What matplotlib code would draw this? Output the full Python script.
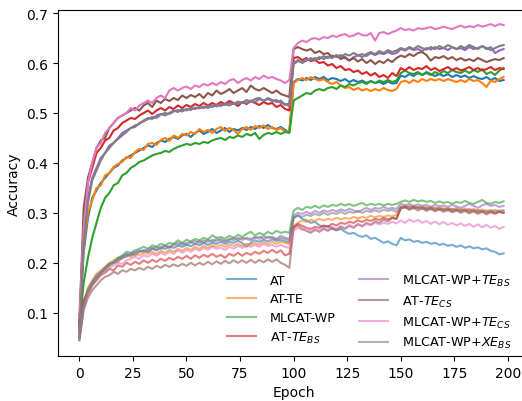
import numpy as np
import matplotlib
matplotlib.use("Agg")
import matplotlib.pyplot as plt

# epochs sampled every 2
epochs = np.arange(0, 200, 2)

labels = ["AT", "AT-TE", "MLCAT-WP", "AT-$TE_{BS}$", "MLCAT-WP+$TE_{BS}$",
          "AT-$TE_{CS}$", "MLCAT-WP+$TE_{CS}$", "MLCAT-WP+$XE_{BS}$"]
colors = ["tab:blue", "tab:orange", "tab:green", "tab:red", "tab:purple",
          "tab:brown", "tab:pink", "tab:gray"]

# clean accuracy
clean_at = [
    0.08, 0.22, 0.29, 0.33, 0.345, 0.36, 0.37, 0.38, 0.39, 0.395,
    0.405, 0.41, 0.415, 0.42, 0.425, 0.43, 0.435, 0.432, 0.44, 0.445,
    0.442, 0.448, 0.452, 0.448, 0.455, 0.458, 0.452, 0.46, 0.465, 0.458,
    0.462, 0.468, 0.46, 0.465, 0.47, 0.462, 0.468, 0.465, 0.47, 0.466,
    0.472, 0.468, 0.474, 0.47, 0.476, 0.47, 0.468, 0.472, 0.466, 0.462,
    0.562, 0.568, 0.565, 0.57, 0.566, 0.572, 0.568, 0.572, 0.566, 0.57,
    0.568, 0.564, 0.568, 0.562, 0.566, 0.562, 0.565, 0.56, 0.564, 0.56,
    0.562, 0.558, 0.563, 0.559, 0.56,
    0.575, 0.572, 0.578, 0.574, 0.58, 0.576, 0.582, 0.578, 0.574, 0.578,
    0.574, 0.578, 0.572, 0.576, 0.572, 0.575, 0.57, 0.574, 0.57, 0.568,
    0.572, 0.566, 0.57, 0.564, 0.566]
clean_at_te = [
    0.08, 0.23, 0.3, 0.325, 0.35, 0.355, 0.375, 0.38, 0.392, 0.398,
    0.402, 0.412, 0.41, 0.422, 0.428, 0.426, 0.438, 0.44, 0.436, 0.446,
    0.45, 0.444, 0.455, 0.45, 0.458, 0.455, 0.462, 0.458, 0.468, 0.462,
    0.466, 0.46, 0.468, 0.472, 0.464, 0.47, 0.466, 0.458, 0.468, 0.472,
    0.466, 0.474, 0.47, 0.475, 0.468, 0.472, 0.466, 0.47, 0.462, 0.465,
    0.56, 0.566, 0.57, 0.566, 0.572, 0.568, 0.565, 0.568, 0.562, 0.558,
    0.562, 0.555, 0.55, 0.552, 0.546, 0.55, 0.545, 0.548, 0.544, 0.548,
    0.545, 0.55, 0.546, 0.544, 0.548,
    0.562, 0.565, 0.56, 0.566, 0.562, 0.568, 0.564, 0.568, 0.565, 0.568,
    0.564, 0.568, 0.565, 0.562, 0.566, 0.562, 0.568, 0.564, 0.566, 0.56,
    0.552, 0.565, 0.562, 0.568, 0.572]
clean_mlcat = [
    0.07, 0.16, 0.21, 0.25, 0.28, 0.31, 0.33, 0.34, 0.355, 0.36,
    0.375, 0.38, 0.39, 0.395, 0.402, 0.405, 0.41, 0.415, 0.418, 0.42,
    0.424, 0.422, 0.428, 0.432, 0.435, 0.438, 0.436, 0.44, 0.438, 0.442,
    0.44, 0.445, 0.448, 0.45, 0.446, 0.452, 0.45, 0.455, 0.452, 0.458,
    0.455, 0.46, 0.448, 0.456, 0.46, 0.458, 0.462, 0.458, 0.462, 0.46,
    0.525, 0.53, 0.535, 0.54, 0.538, 0.545, 0.548, 0.545, 0.55, 0.552,
    0.548, 0.555, 0.552, 0.558, 0.555, 0.56, 0.562, 0.558, 0.564, 0.56,
    0.565, 0.562, 0.566, 0.562, 0.565,
    0.58, 0.585, 0.58, 0.578, 0.582, 0.576, 0.58, 0.576, 0.582, 0.578,
    0.584, 0.58, 0.586, 0.582, 0.58, 0.585, 0.58, 0.586, 0.582, 0.588,
    0.578, 0.582, 0.576, 0.585, 0.59]
clean_at_te_bs = [
    0.07, 0.28, 0.36, 0.39, 0.42, 0.43, 0.445, 0.45, 0.465, 0.47,
    0.48, 0.485, 0.49, 0.488, 0.495, 0.5, 0.505, 0.498, 0.505, 0.51,
    0.505, 0.512, 0.508, 0.515, 0.51, 0.516, 0.512, 0.518, 0.514, 0.52,
    0.515, 0.52, 0.516, 0.522, 0.518, 0.524, 0.52, 0.514, 0.522, 0.518,
    0.524, 0.52, 0.516, 0.522, 0.518, 0.52, 0.512, 0.516, 0.508, 0.505,
    0.61, 0.612, 0.606, 0.61, 0.604, 0.606, 0.6, 0.602, 0.595, 0.598,
    0.59, 0.594, 0.586, 0.588, 0.582, 0.585, 0.578, 0.582, 0.575, 0.58,
    0.572, 0.576, 0.57, 0.58, 0.574,
    0.59, 0.585, 0.592, 0.586, 0.59, 0.588, 0.594, 0.586, 0.59, 0.584,
    0.588, 0.592, 0.586, 0.59, 0.585, 0.588, 0.592, 0.586, 0.59, 0.585,
    0.588, 0.592, 0.586, 0.59, 0.588]
clean_mlcat_te_bs = [
    0.06, 0.25, 0.33, 0.37, 0.39, 0.41, 0.42, 0.435, 0.44, 0.45,
    0.46, 0.465, 0.47, 0.475, 0.478, 0.485, 0.49, 0.488, 0.495, 0.498,
    0.495, 0.5, 0.505, 0.502, 0.508, 0.505, 0.51, 0.508, 0.512, 0.51,
    0.515, 0.512, 0.516, 0.514, 0.518, 0.515, 0.52, 0.518, 0.522, 0.52,
    0.525, 0.522, 0.528, 0.525, 0.528, 0.524, 0.526, 0.52, 0.518, 0.514,
    0.598, 0.604, 0.602, 0.608, 0.606, 0.61, 0.608, 0.614, 0.61, 0.615,
    0.612, 0.616, 0.61, 0.605, 0.612, 0.615, 0.618, 0.614, 0.62, 0.616,
    0.62, 0.618, 0.622, 0.618, 0.62,
    0.628, 0.625, 0.63, 0.626, 0.628, 0.624, 0.63, 0.627, 0.632, 0.628,
    0.63, 0.626, 0.632, 0.628, 0.63, 0.626, 0.632, 0.628, 0.63, 0.634,
    0.628, 0.632, 0.62, 0.625, 0.628]
clean_at_te_cs = [
    0.08, 0.31, 0.37, 0.4, 0.43, 0.445, 0.45, 0.47, 0.48, 0.49,
    0.495, 0.5, 0.505, 0.51, 0.505, 0.515, 0.52, 0.512, 0.525, 0.52,
    0.528, 0.524, 0.53, 0.526, 0.535, 0.53, 0.536, 0.532, 0.538, 0.53,
    0.54, 0.535, 0.545, 0.538, 0.542, 0.548, 0.54, 0.545, 0.55, 0.542,
    0.555, 0.548, 0.545, 0.55, 0.545, 0.54, 0.545, 0.538, 0.535, 0.532,
    0.628, 0.632, 0.628, 0.625, 0.628, 0.62, 0.624, 0.618, 0.62, 0.612,
    0.615, 0.608, 0.612, 0.605, 0.61, 0.603, 0.608, 0.6, 0.606, 0.598,
    0.604, 0.6, 0.607, 0.602, 0.61,
    0.615, 0.612, 0.618, 0.614, 0.62, 0.622, 0.616, 0.605, 0.612, 0.61,
    0.614, 0.608, 0.612, 0.606, 0.61, 0.605, 0.608, 0.604, 0.61, 0.606,
    0.602, 0.605, 0.608, 0.606, 0.61]
clean_mlcat_te_cs = [
    0.09, 0.27, 0.36, 0.4, 0.43, 0.44, 0.46, 0.47, 0.48, 0.49,
    0.495, 0.5, 0.51, 0.505, 0.515, 0.52, 0.525, 0.52, 0.53, 0.535,
    0.53, 0.545, 0.55, 0.545, 0.55, 0.553, 0.548, 0.555, 0.552, 0.558,
    0.555, 0.56, 0.556, 0.562, 0.558, 0.565, 0.568, 0.56, 0.566, 0.57,
    0.565, 0.572, 0.568, 0.575, 0.57, 0.572, 0.568, 0.565, 0.56, 0.566,
    0.63, 0.64, 0.645, 0.642, 0.648, 0.65, 0.647, 0.652, 0.65, 0.655,
    0.652, 0.656, 0.658, 0.653, 0.655, 0.66, 0.656, 0.655, 0.66, 0.645,
    0.66, 0.662, 0.658, 0.662, 0.665,
    0.67, 0.666, 0.668, 0.665, 0.67, 0.668, 0.67, 0.672, 0.668, 0.67,
    0.673, 0.67, 0.668, 0.672, 0.675, 0.671, 0.674, 0.672, 0.676, 0.673,
    0.675, 0.678, 0.674, 0.678, 0.676]
clean_mlcat_xe_bs = [
    0.06, 0.24, 0.32, 0.365, 0.385, 0.405, 0.42, 0.43, 0.44, 0.448,
    0.455, 0.462, 0.47, 0.472, 0.48, 0.483, 0.488, 0.492, 0.49, 0.497,
    0.5, 0.498, 0.503, 0.506, 0.503, 0.508, 0.506, 0.511, 0.509, 0.513,
    0.51, 0.515, 0.513, 0.518, 0.516, 0.52, 0.518, 0.523, 0.52, 0.526,
    0.523, 0.528, 0.53, 0.524, 0.53, 0.526, 0.522, 0.525, 0.516, 0.52,
    0.6, 0.606, 0.6, 0.605, 0.61, 0.606, 0.612, 0.608, 0.613, 0.61,
    0.616, 0.612, 0.618, 0.615, 0.62, 0.616, 0.612, 0.618, 0.622, 0.618,
    0.624, 0.62, 0.626, 0.622, 0.625,
    0.63, 0.627, 0.632, 0.628, 0.634, 0.63, 0.627, 0.632, 0.628, 0.634,
    0.63, 0.636, 0.632, 0.628, 0.634, 0.63, 0.636, 0.632, 0.628, 0.634,
    0.63, 0.626, 0.63, 0.634, 0.636]

# robust accuracy
robust_at = [
    0.05, 0.12, 0.148, 0.162, 0.175, 0.182, 0.19, 0.198, 0.202, 0.208,
    0.212, 0.218, 0.215, 0.22, 0.222, 0.225, 0.222, 0.228, 0.225, 0.23,
    0.228, 0.232, 0.23, 0.234, 0.232, 0.236, 0.233, 0.238, 0.235, 0.24,
    0.236, 0.24, 0.238, 0.242, 0.238, 0.242, 0.24, 0.244, 0.24, 0.232,
    0.24, 0.245, 0.242, 0.246, 0.243, 0.247, 0.244, 0.246, 0.243, 0.24,
    0.29, 0.295, 0.288, 0.285, 0.28, 0.282, 0.275, 0.272, 0.274, 0.268,
    0.265, 0.268, 0.262, 0.258, 0.26, 0.255, 0.252, 0.255, 0.248, 0.25,
    0.245, 0.24, 0.243, 0.238, 0.235,
    0.25, 0.245, 0.247, 0.242, 0.244, 0.24, 0.242, 0.238, 0.24, 0.236,
    0.238, 0.234, 0.236, 0.232, 0.235, 0.23, 0.233, 0.229, 0.231, 0.227,
    0.229, 0.224, 0.222, 0.217, 0.219]
robust_at_te = [
    0.05, 0.12, 0.15, 0.165, 0.178, 0.185, 0.192, 0.2, 0.205, 0.21,
    0.208, 0.215, 0.212, 0.218, 0.215, 0.22, 0.218, 0.222, 0.218, 0.224,
    0.22, 0.226, 0.222, 0.228, 0.224, 0.23, 0.226, 0.232, 0.228, 0.234,
    0.23, 0.235, 0.232, 0.236, 0.232, 0.237, 0.234, 0.238, 0.234, 0.238,
    0.236, 0.24, 0.236, 0.242, 0.238, 0.242, 0.238, 0.242, 0.24, 0.238,
    0.275, 0.28, 0.285, 0.282, 0.286, 0.284, 0.288, 0.285, 0.288, 0.286,
    0.29, 0.287, 0.29, 0.288, 0.292, 0.289, 0.292, 0.29, 0.294, 0.291,
    0.294, 0.292, 0.295, 0.293, 0.296,
    0.312, 0.315, 0.312, 0.314, 0.311, 0.313, 0.31, 0.312, 0.309, 0.311,
    0.308, 0.31, 0.307, 0.31, 0.306, 0.309, 0.305, 0.308, 0.304, 0.307,
    0.303, 0.306, 0.302, 0.305, 0.304]
robust_mlcat = [
    0.05, 0.12, 0.145, 0.16, 0.172, 0.18, 0.19, 0.198, 0.2, 0.21,
    0.215, 0.222, 0.22, 0.225, 0.228, 0.232, 0.228, 0.235, 0.232, 0.238,
    0.235, 0.24, 0.238, 0.245, 0.24, 0.246, 0.243, 0.248, 0.245, 0.25,
    0.247, 0.255, 0.25, 0.252, 0.248, 0.254, 0.25, 0.256, 0.252, 0.258,
    0.262, 0.255, 0.26, 0.256, 0.262, 0.258, 0.264, 0.26, 0.262, 0.26,
    0.305, 0.31, 0.306, 0.312, 0.31, 0.314, 0.31, 0.315, 0.312, 0.316,
    0.314, 0.318, 0.315, 0.318, 0.314, 0.317, 0.32, 0.315, 0.318, 0.316,
    0.318, 0.315, 0.318, 0.316, 0.318,
    0.322, 0.325, 0.322, 0.326, 0.323, 0.325, 0.322, 0.324, 0.32, 0.323,
    0.32, 0.322, 0.318, 0.322, 0.32, 0.324, 0.32, 0.318, 0.322, 0.326,
    0.32, 0.318, 0.322, 0.32, 0.323]
robust_at_te_bs = [
    0.05, 0.125, 0.14, 0.155, 0.165, 0.175, 0.18, 0.188, 0.185, 0.195,
    0.192, 0.2, 0.196, 0.202, 0.198, 0.205, 0.2, 0.206, 0.202, 0.208,
    0.204, 0.21, 0.206, 0.212, 0.208, 0.214, 0.208, 0.215, 0.21, 0.216,
    0.212, 0.218, 0.212, 0.216, 0.21, 0.218, 0.214, 0.22, 0.214, 0.22,
    0.216, 0.222, 0.218, 0.224, 0.22, 0.226, 0.22, 0.225, 0.215, 0.218,
    0.272, 0.278, 0.274, 0.27, 0.268, 0.272, 0.27, 0.275, 0.272, 0.278,
    0.275, 0.28, 0.278, 0.282, 0.28, 0.285, 0.282, 0.286, 0.284, 0.288,
    0.286, 0.29, 0.287, 0.29, 0.288,
    0.31, 0.312, 0.308, 0.312, 0.309, 0.311, 0.307, 0.31, 0.306, 0.309,
    0.305, 0.308, 0.304, 0.307, 0.303, 0.306, 0.302, 0.305, 0.301, 0.304,
    0.3, 0.303, 0.3, 0.302, 0.3]
robust_mlcat_te_bs = [
    0.05, 0.115, 0.14, 0.158, 0.17, 0.178, 0.19, 0.195, 0.2, 0.205,
    0.212, 0.215, 0.218, 0.222, 0.225, 0.222, 0.228, 0.23, 0.226, 0.232,
    0.234, 0.23, 0.236, 0.24, 0.236, 0.24, 0.242, 0.238, 0.244, 0.24,
    0.246, 0.242, 0.248, 0.245, 0.242, 0.248, 0.245, 0.25, 0.246, 0.25,
    0.248, 0.252, 0.248, 0.254, 0.25, 0.252, 0.248, 0.254, 0.25, 0.248,
    0.295, 0.3, 0.298, 0.302, 0.298, 0.304, 0.3, 0.305, 0.302, 0.306,
    0.303, 0.307, 0.304, 0.308, 0.305, 0.302, 0.306, 0.31, 0.306, 0.31,
    0.308, 0.312, 0.308, 0.31, 0.308,
    0.318, 0.315, 0.318, 0.314, 0.317, 0.314, 0.316, 0.312, 0.316, 0.313,
    0.315, 0.312, 0.316, 0.313, 0.31, 0.314, 0.318, 0.314, 0.31, 0.315,
    0.318, 0.314, 0.316, 0.312, 0.314]
robust_at_te_cs = [
    0.045, 0.105, 0.13, 0.145, 0.155, 0.165, 0.172, 0.175, 0.182, 0.178,
    0.185, 0.182, 0.188, 0.185, 0.19, 0.186, 0.192, 0.188, 0.194, 0.19,
    0.196, 0.192, 0.197, 0.193, 0.198, 0.194, 0.2, 0.195, 0.2, 0.196,
    0.202, 0.197, 0.203, 0.198, 0.204, 0.199, 0.205, 0.2, 0.205, 0.2,
    0.206, 0.2, 0.206, 0.201, 0.207, 0.202, 0.207, 0.2, 0.196, 0.19,
    0.27, 0.275, 0.268, 0.264, 0.26, 0.266, 0.262, 0.268, 0.264, 0.27,
    0.266, 0.272, 0.268, 0.274, 0.27, 0.277, 0.273, 0.28, 0.276, 0.283,
    0.28, 0.286, 0.283, 0.29, 0.288,
    0.308, 0.312, 0.306, 0.31, 0.305, 0.309, 0.304, 0.308, 0.303, 0.307,
    0.302, 0.306, 0.301, 0.305, 0.3, 0.304, 0.299, 0.303, 0.298, 0.302,
    0.297, 0.301, 0.298, 0.302, 0.3]
robust_mlcat_te_cs = [
    0.05, 0.11, 0.14, 0.155, 0.168, 0.175, 0.185, 0.19, 0.195, 0.2,
    0.198, 0.205, 0.208, 0.212, 0.208, 0.215, 0.212, 0.218, 0.214, 0.22,
    0.216, 0.222, 0.218, 0.225, 0.22, 0.226, 0.222, 0.228, 0.224, 0.23,
    0.226, 0.232, 0.228, 0.23, 0.226, 0.232, 0.228, 0.234, 0.23, 0.235,
    0.232, 0.236, 0.232, 0.238, 0.234, 0.236, 0.232, 0.236, 0.232, 0.23,
    0.265, 0.27, 0.266, 0.27, 0.264, 0.268, 0.265, 0.27, 0.266, 0.272,
    0.268, 0.274, 0.27, 0.276, 0.272, 0.278, 0.274, 0.278, 0.276, 0.28,
    0.277, 0.28, 0.278, 0.282, 0.279,
    0.285, 0.28, 0.287, 0.282, 0.286, 0.28, 0.284, 0.278, 0.283, 0.277,
    0.282, 0.276, 0.28, 0.275, 0.279, 0.274, 0.278, 0.272, 0.277, 0.271,
    0.276, 0.27, 0.274, 0.268, 0.272]
robust_mlcat_xe_bs = [
    0.045, 0.11, 0.138, 0.155, 0.168, 0.18, 0.185, 0.195, 0.2, 0.202,
    0.21, 0.212, 0.218, 0.215, 0.222, 0.225, 0.222, 0.228, 0.232, 0.228,
    0.234, 0.232, 0.238, 0.235, 0.24, 0.236, 0.24, 0.244, 0.24, 0.245,
    0.242, 0.246, 0.243, 0.248, 0.244, 0.246, 0.25, 0.246, 0.25, 0.248,
    0.245, 0.25, 0.252, 0.248, 0.252, 0.25, 0.246, 0.25, 0.248, 0.244,
    0.29, 0.295, 0.292, 0.296, 0.294, 0.298, 0.295, 0.3, 0.296, 0.3,
    0.298, 0.302, 0.298, 0.302, 0.3, 0.304, 0.3, 0.304, 0.302, 0.305,
    0.302, 0.306, 0.304, 0.306, 0.302,
    0.312, 0.31, 0.313, 0.309, 0.312, 0.308, 0.311, 0.307, 0.31, 0.306,
    0.309, 0.305, 0.308, 0.304, 0.307, 0.304, 0.308, 0.303, 0.306, 0.302,
    0.305, 0.302, 0.306, 0.303, 0.305]

clean = [clean_at, clean_at_te, clean_mlcat, clean_at_te_bs,
         clean_mlcat_te_bs, clean_at_te_cs, clean_mlcat_te_cs, clean_mlcat_xe_bs]
robust = [robust_at, robust_at_te, robust_mlcat, robust_at_te_bs,
          robust_mlcat_te_bs, robust_at_te_cs, robust_mlcat_te_cs, robust_mlcat_xe_bs]

fig = plt.figure(figsize=(5.22, 4.02), dpi=100)
ax = fig.add_axes([0.111, 0.112, 0.903, 0.861])

handles = []
for lab, col, c, r in zip(labels, colors, clean, robust):
    ax.plot(epochs, c, color=col, lw=1.5)
    h, = ax.plot(epochs, r, color=col, lw=1.5, alpha=0.6, label=lab)
    handles.append(h)

ax.set_xlim(-10, 210)
ax.set_ylim(0.0135, 0.7065)
ax.set_xticks([0, 25, 50, 75, 100, 125, 150, 175, 200])
ax.set_yticks([0.1, 0.2, 0.3, 0.4, 0.5, 0.6, 0.7])
ax.set_xlabel("Epoch")
ax.set_ylabel("Accuracy")
ax.legend(handles=handles, ncol=2, frameon=False, loc="lower left",
          bbox_to_anchor=(0.3345, -0.017), fontsize=9.2, labelspacing=0.45,
          handlelength=2.23, handletextpad=1.1, columnspacing=1.83)

fig.savefig("out.png", dpi=100)
